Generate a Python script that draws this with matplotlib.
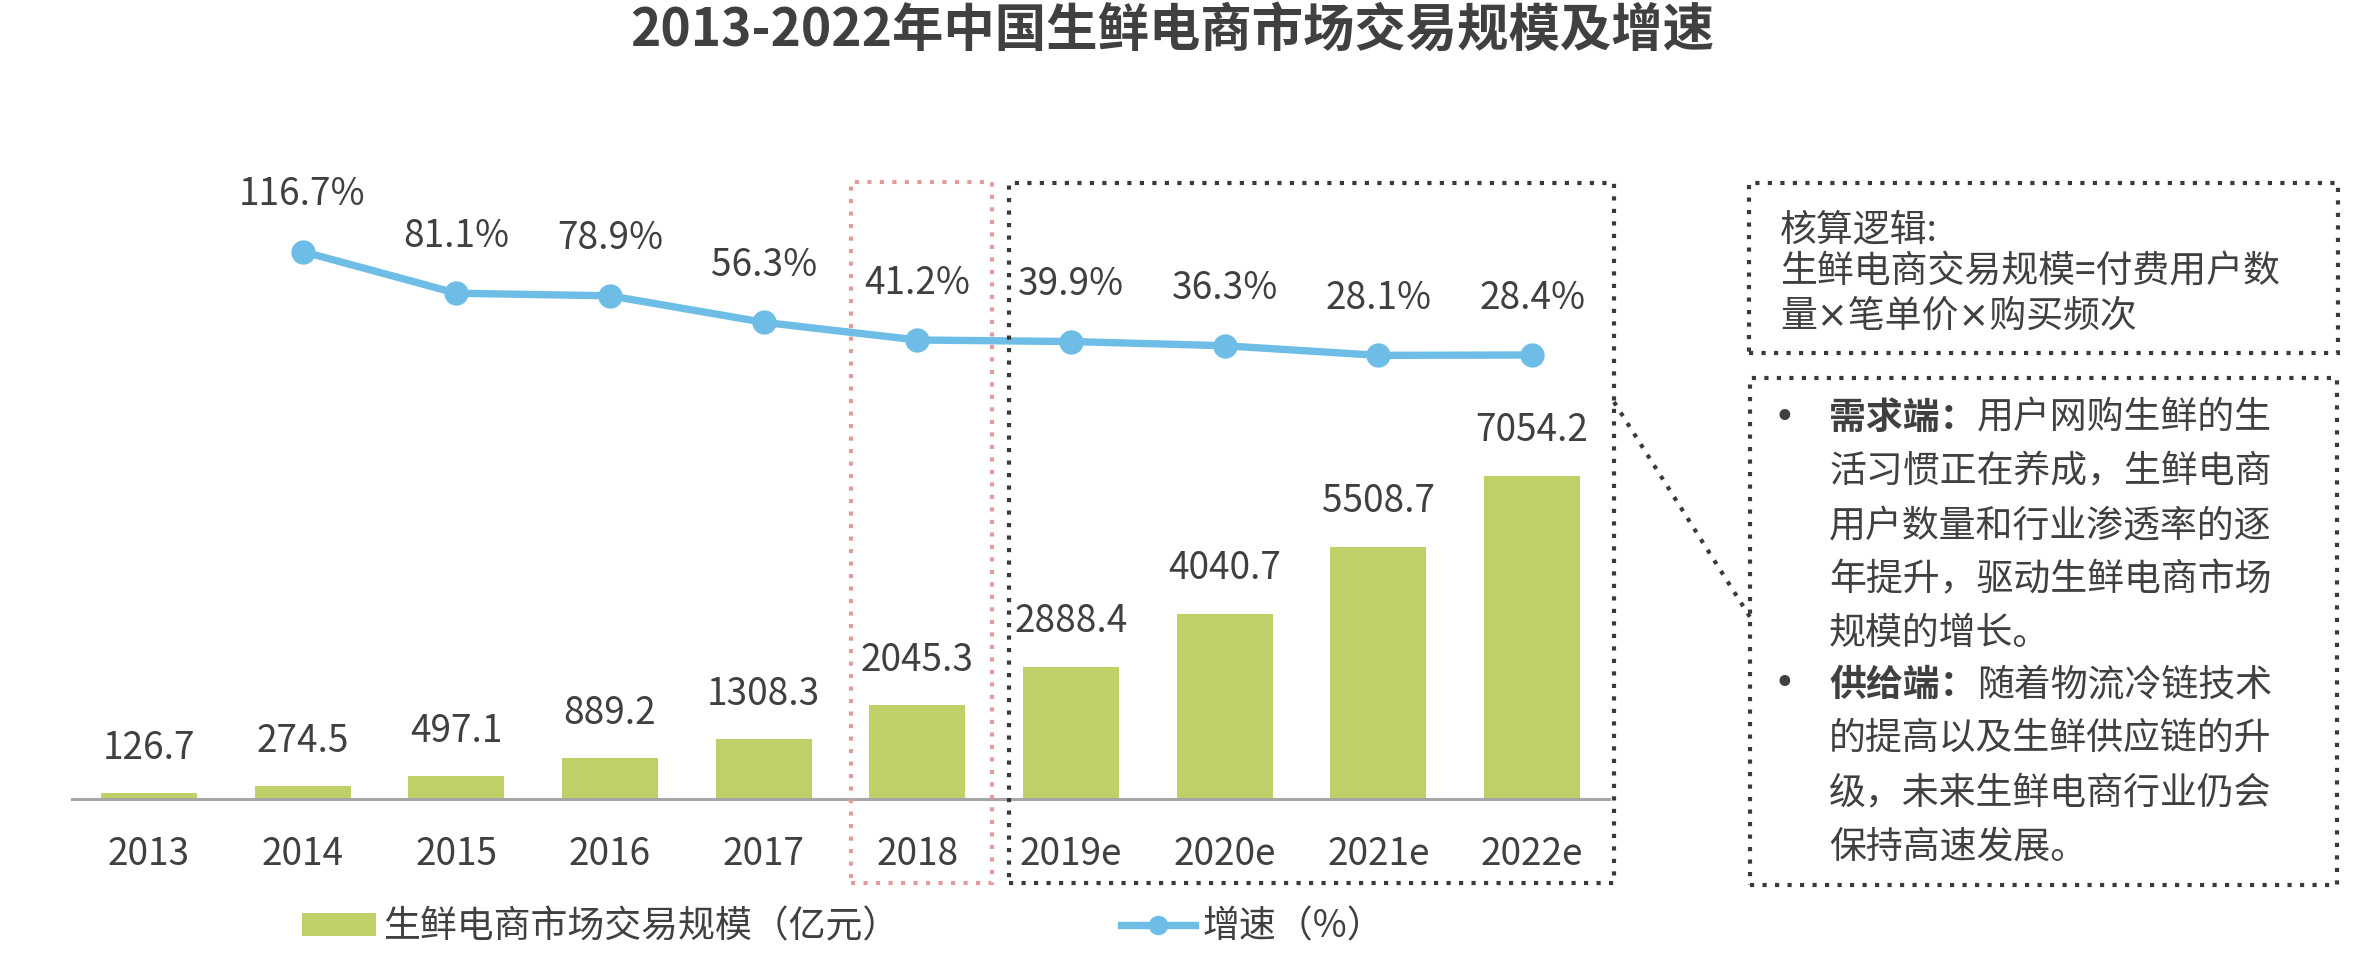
import matplotlib
matplotlib.use("Agg")
import matplotlib.pyplot as plt
from matplotlib.patches import Rectangle
from matplotlib.lines import Line2D
import numpy as np

plt.rcParams['font.family'] = ['Noto Sans CJK SC', 'DejaVu Sans']

# --- data ---
years = ["2013", "2014", "2015", "2016", "2017", "2018", "2019e", "2020e", "2021e", "2022e"]
market_size = [126.7, 274.5, 497.1, 889.2, 1308.3, 2045.3, 2888.4, 4040.7, 5508.7, 7054.2]
growth_years = ["2014", "2015", "2016", "2017", "2018", "2019e", "2020e", "2021e", "2022e"]
growth_rate = [116.7, 81.1, 78.9, 56.3, 41.2, 39.9, 36.3, 28.1, 28.4]

title = "2013-2022年中国生鲜电商市场交易规模及增速"
bar_label = "生鲜电商市场交易规模（亿元）"
line_label = "增速（%）"
logic_lines = ["核算逻辑:", "生鲜电商交易规模=付费用户数", "量×笔单价×购买频次"]
demand_head = "需求端："
demand_lines = ["用户网购生鲜的生", "活习惯正在养成，生鲜电商", "用户数量和行业渗透率的逐",
                "年提升，驱动生鲜电商市场", "规模的增长。"]
supply_head = "供给端："
supply_lines = ["随着物流冷链技术", "的提高以及生鲜供应链的升", "级，未来生鲜电商行业仍会",
                "保持高速发展。"]

# --- style ---
W, H = 2362, 960
TEXT = "#404040"
BAR_COLOR = "#BDD168"
LINE_COLOR = "#6DBDE6"
RED_DOT = "#E49B9B"
DARK_DOT = "#3A3A3A"
FS = 26.6
DOTS = (0, (1, 2.0))
DOT_LW = 3.0


def fx(x):
    return x / W


def fy(y):
    return 1 - y / H


fig = plt.figure(figsize=(W / 100, H / 100), dpi=100)
fig.patch.set_facecolor("white")

ax = fig.add_axes([fx(72), fy(799), fx(1609 - 72), (799 - 150) / H])
x = np.arange(len(years))
bars = ax.bar(x, market_size, width=0.625, color=BAR_COLOR, zorder=2)
ax.set_xlim(-0.5, len(years) - 0.5)
ax.set_ylim(0, 14173)
for i, v in enumerate(market_size):
    ax.annotate(f"{v:.1f}", (i, v), xytext=(0, 32.4), textcoords="offset points",
                ha="center", va="center", fontsize=FS, color=TEXT)

ax.set_xticks(x, years)
ax.tick_params(axis="x", length=0, pad=26, labelsize=FS, labelcolor=TEXT)
ax.set_yticks([])
for s in ["top", "left", "right"]:
    ax.spines[s].set_visible(False)
ax.spines["bottom"].set_color("#A6A6A6")
ax.spines["bottom"].set_linewidth(2.2)
ax.patch.set_alpha(0)

ax2 = ax.twinx()
gx = [years.index(y) for y in growth_years]
line, = ax2.plot(gx, growth_rate, color=LINE_COLOR, lw=5.3, marker="o", ms=16.5,
                 solid_joinstyle="round", zorder=3)
ax2.set_ylim(-350.4, 203.3)
ax2.set_yticks([])
for s in ["top", "left", "right", "bottom"]:
    ax2.spines[s].set_visible(False)
for xi, v in zip(gx, growth_rate):
    ax2.annotate(f"{v:.1f}%", (xi, v), xytext=(0, 41), textcoords="offset points",
                 ha="center", va="center", fontsize=FS, color=TEXT)

# title
fig.text(fx(1172), fy(30), title, ha="center", va="center", fontsize=37,
         fontweight="bold", color=TEXT)


# dotted frames
def frame(x0, y0, x1, y1, color):
    fig.add_artist(Rectangle((fx(x0), fy(y1)), fx(x1 - x0), (y1 - y0) / H, fill=False,
                             ec=color, lw=DOT_LW, ls=DOTS, transform=fig.transFigure))


frame(851, 182, 992, 883, RED_DOT)
frame(1009, 183, 1614, 883, DARK_DOT)
frame(1749, 183, 2338, 353, DARK_DOT)
frame(1750, 378, 2337, 885, DARK_DOT)
fig.add_artist(Line2D([fx(1614), fx(1750)], [fy(402), fy(617)], color=DARK_DOT, lw=DOT_LW,
                      ls=DOTS, transform=fig.transFigure))

# calculation logic box (the × signs are narrow in the original, so draw them in DejaVu)
fig.text(fx(1780), fy(230), logic_lines[0], ha="left", va="center", fontsize=FS, color=TEXT)
fig.text(fx(1780), fy(272), logic_lines[1], ha="left", va="center", fontsize=FS, color=TEXT)
fig.text(fx(1780), fy(316), logic_lines[2], ha="left", va="center", fontsize=FS, color=TEXT,
         family=["DejaVu Sans", "Noto Sans CJK SC"])

# driver box
row_y = [418, 472, 527, 580, 633, 685, 738, 793, 847]
blocks = [(demand_head, demand_lines, 0), (supply_head, supply_lines, 5)]
for head, lines, start in blocks:
    fig.text(fx(1784), fy(row_y[start]), "•", ha="center", va="center", fontsize=FS,
             color=TEXT, family=["DejaVu Sans"])
    fig.text(fx(1829), fy(row_y[start]), head, ha="left", va="center", fontsize=FS,
             fontweight="bold", color=TEXT)
    for j, t in enumerate(lines):
        xx = 1977 if j == 0 else 1829
        fig.text(fx(xx), fy(row_y[start + j]), t, ha="left", va="center", fontsize=FS,
                 color=TEXT)

# legend
line_handle = Line2D([], [], color=LINE_COLOR, lw=5.3, marker="o", ms=13)
fig.legend([bars, line_handle], [bar_label, line_label], loc="center left",
           bbox_to_anchor=(fx(302), fy(927)), ncol=2, frameon=False, fontsize=FS,
           labelcolor=TEXT, handlelength=2.0, handleheight=0.6, handletextpad=0.2,
           columnspacing=6.0, borderpad=0, borderaxespad=0)

fig.savefig("out.png", dpi=100, facecolor="white")
